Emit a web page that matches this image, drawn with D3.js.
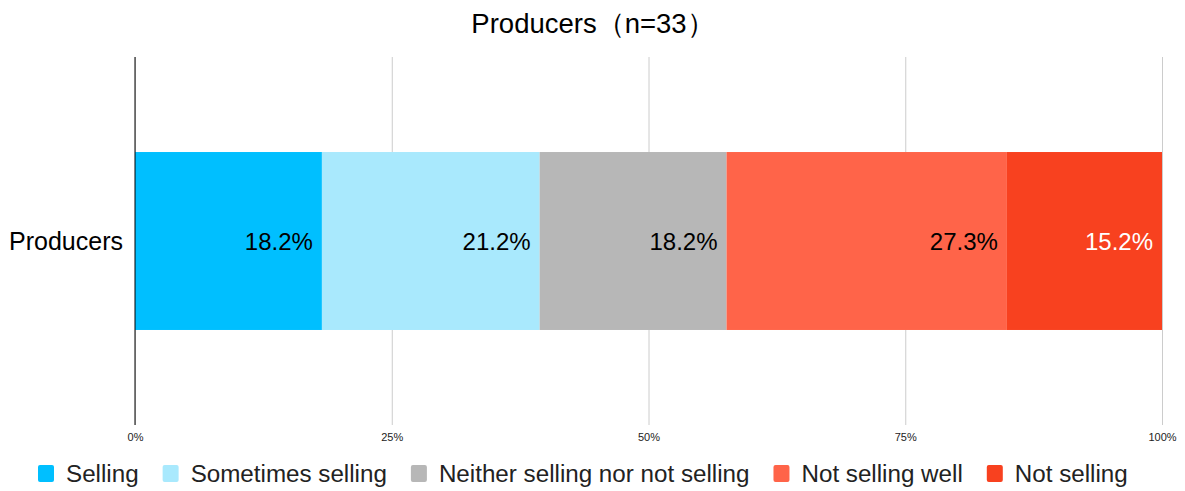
<!DOCTYPE html>
<html><head><meta charset="utf-8">
<script src="https://cdn.jsdelivr.net/npm/d3@7"></script>
<style>body{margin:0;background:#fff;} text{font-family:"Liberation Sans",Arial,sans-serif;}</style>
</head><body>
<svg id="c" width="1185" height="491"></svg>
<script>
const title = "Producers（n=33）";
const categories = ["Producers"];
const seriesNames = ["Selling","Sometimes selling","Neither selling nor not selling","Not selling well","Not selling"];
const seriesValues = [18.2, 21.2, 18.2, 27.3, 15.2];
const seriesColors = ["#00bfff","#a9e9fd","#b7b7b7","#ff6449","#f8411f"];
const labelColors = ["#000","#000","#000","#000","#fff"];
const tickValues = [0,25,50,75,100];
const tickLabels = ["0%","25%","50%","75%","100%"];

const svg = d3.select("#c");
const L = 135, R = 1162, T = 57, B = 425;
const x = d3.scaleLinear().domain([0,100]).range([L,R]);
const y = d3.scaleBand().domain(categories).range([T,B]).paddingInner(0).paddingOuter(0.534);

svg.append("text").attr("x",593).attr("y",33).attr("text-anchor","middle")
  .attr("font-size",27.5).attr("fill","#000").text(title);

// grid
const ax = d3.axisBottom(x).tickValues(tickValues).tickFormat((d,i)=>tickLabels[i]).tickSize(-(B-T)).tickPadding(8);
const g = svg.append("g").attr("transform",`translate(0,${B})`).call(ax);
g.select(".domain").remove();
g.selectAll(".tick line").attr("stroke","#cccccc");
g.selectAll(".tick text").attr("font-size",11).attr("fill","#222").attr("font-family","Liberation Sans, Arial, sans-serif");

// stacked bars
let acc = 0;
const segs = seriesValues.map((v,i)=>{const s={i,v,x0:acc,x1:acc+v}; acc+=v; return s;});
const cat = categories[0];
svg.append("g").selectAll("rect").data(segs).join("rect")
  .attr("x",d=>x(d.x0)).attr("width",d=>x(Math.min(d.x1,100))-x(d.x0))
  .attr("y",y(cat)).attr("height",y.bandwidth()).attr("fill",d=>seriesColors[d.i]);
svg.append("g").selectAll("text").data(segs).join("text")
  .attr("x",d=>x(Math.min(d.x1,100))-9).attr("y",y(cat)+y.bandwidth()/2+9)
  .attr("text-anchor","end").attr("font-size",24).attr("fill",d=>labelColors[d.i])
  .text(d=>d.v.toFixed(1)+"%");

// y axis
svg.append("line").attr("x1",L).attr("x2",L).attr("y1",T).attr("y2",B).attr("stroke","#000").attr("stroke-width",1);
svg.append("text").attr("x",123).attr("y",y(cat)+y.bandwidth()/2+9).attr("text-anchor","end")
  .attr("font-size",25).attr("fill","#000").text(cat);

// legend
const lg = svg.append("g");
let lx = 38;
seriesNames.forEach((n,i)=>{
  lg.append("rect").attr("x",lx).attr("y",465).attr("width",16).attr("height",17).attr("rx",2).attr("fill",seriesColors[i]);
  const t = lg.append("text").attr("x",lx+28).attr("y",482).attr("font-size",24.2).attr("fill","#222").text(n);
  lx += 28 + t.node().getComputedTextLength() + 24;
});
</script>
</body></html>
